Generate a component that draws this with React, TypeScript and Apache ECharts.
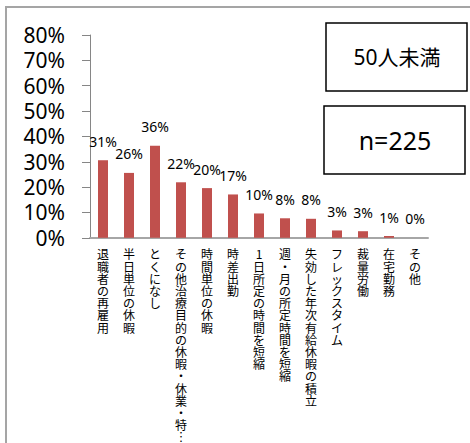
import React, { useEffect, useRef } from "react";
import * as echarts from "echarts";

const categories = [
  "退職者の再雇用",
  "半日単位の休暇",
  "とくになし",
  "その他治療目的の休暇・休業・特…",
  "時間単位の休暇",
  "時差出勤",
  "1日所定の時間を短縮",
  "週・月の所定時間を短縮",
  "失効した年次有給休暇の積立",
  "フレックスタイム",
  "裁量労働",
  "在宅勤務",
  "その他",
];
const values = [30.6, 25.6, 36.3, 21.9, 19.6, 17.1, 9.6, 7.7, 7.5, 2.9, 2.6, 0.7, 0];
const yTicks = [0, 10, 20, 30, 40, 50, 60, 70, 80];
const groupLabel = "50人未満";
const sampleLabel = "n=225";

const FONT = "'Noto Sans', 'Noto Sans CJK JP', sans-serif";

export default function App() {
  const ref = useRef<HTMLDivElement>(null);
  useEffect(() => {
    if (!ref.current) return;
    const chart = echarts.init(ref.current, undefined, { renderer: "svg" });
    chart.setOption({
      animation: false,
      backgroundColor: "#ffffff",
      textStyle: { fontFamily: FONT },
      grid: { left: 90, top: 35, right: 42, bottom: 198, containLabel: false },
      xAxis: {
        type: "category",
        data: categories,
        axisLine: { show: true, lineStyle: { color: "#a6a6a6", width: 2 } },
        axisTick: { show: false },
        axisLabel: {
          interval: 0,
          margin: 10,
          fontSize: 12,
          lineHeight: 12.2,
          color: "#000000",
          fontFamily: "'Noto Sans CJK JP', sans-serif",
          verticalAlign: "top",
          formatter: (v: string) =>
            Array.from(v.replace("…", "︙")).join("\n"),
        },
      },
      yAxis: {
        type: "value",
        min: yTicks[0],
        max: yTicks[yTicks.length - 1],
        interval: 10,
        splitLine: { show: false },
        axisLine: { show: true, lineStyle: { color: "#868686", width: 1 } },
        axisTick: { show: true, length: 8, lineStyle: { color: "#868686" } },
        axisLabel: {
          fontSize: 21,
          color: "#000000",
          margin: 25,
          formatter: (v: number) => `${v}%`,
        },
      },
      series: [
        {
          type: "bar",
          data: values,
          barWidth: 10,
          itemStyle: { color: "#c0504d" },
          label: {
            show: true,
            position: "top",
            distance: 12,
            fontSize: 14,
            color: "#000000",
            formatter: (p: any) => `${Math.round(p.value)}%`,
          },
        },
      ],
      graphic: [
        {
          type: "rect",
          shape: { x: 6, y: 7, width: 480, height: 460 },
          style: { fill: "none", stroke: "#a5a5a5", lineWidth: 2 },
          silent: true,
        },
        {
          type: "rect",
          shape: { x: 326, y: 23, width: 141, height: 68 },
          style: { fill: "#ffffff", stroke: "#000000", lineWidth: 1.5 },
        },
        {
          type: "text",
          x: 397,
          y: 57,
          style: {
            text: groupLabel,
            fontSize: 21,
            fontFamily: FONT,
            fill: "#000000",
            align: "center",
            verticalAlign: "middle",
          },
        },
        {
          type: "rect",
          shape: { x: 324, y: 106, width: 141, height: 68 },
          style: { fill: "#ffffff", stroke: "#000000", lineWidth: 1.5 },
        },
        {
          type: "text",
          x: 395,
          y: 140,
          style: {
            text: sampleLabel,
            fontSize: 25,
            fontFamily: FONT,
            fill: "#000000",
            align: "center",
            verticalAlign: "middle",
          },
        },
      ],
    });
    return () => chart.dispose();
  }, []);
  return (
    <div
      ref={ref}
      style={{ position: "fixed", left: 0, top: 0, width: 470, height: 443 }}
    />
  );
}
